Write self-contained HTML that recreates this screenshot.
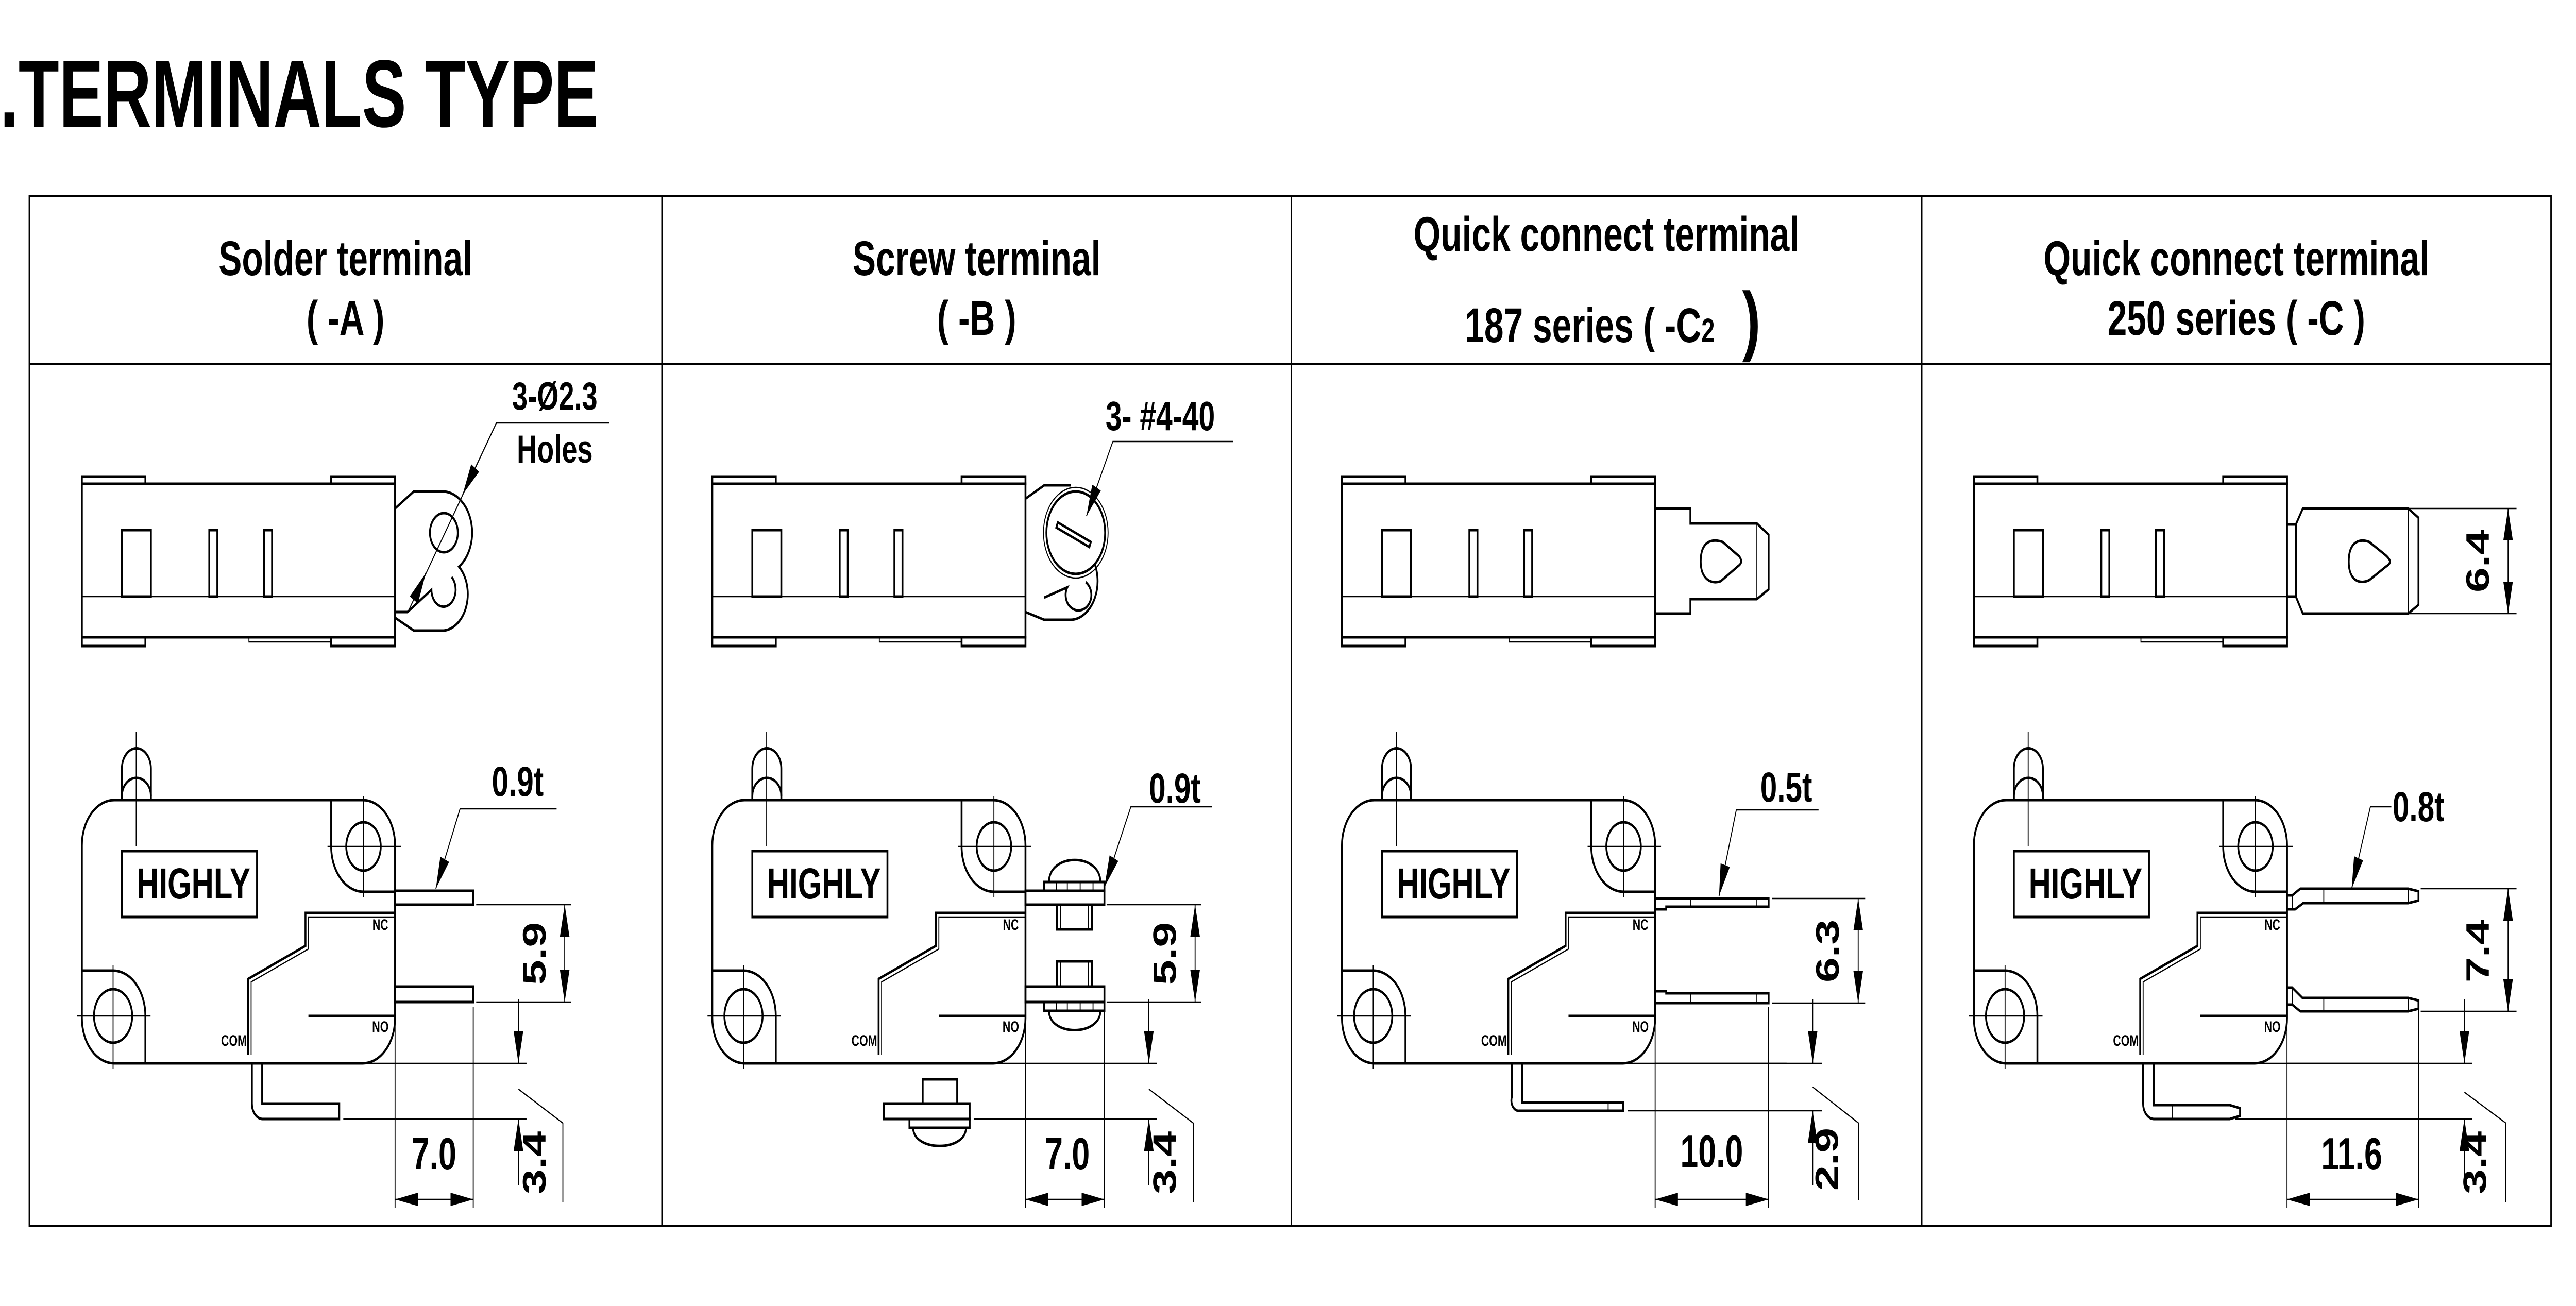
<!DOCTYPE html>
<html><head><meta charset="utf-8"><style>
html,body{margin:0;padding:0;background:#fff;width:100%;height:100%;overflow:hidden}
svg{display:block;width:100vw;height:100vh}
text{font-family:"Liberation Sans",Arial,sans-serif;font-weight:bold;fill:#000}
.k{fill:none;stroke:#000;stroke-width:5}
.t{fill:none;stroke:#000;stroke-width:2.5}
.w{fill:#fff;stroke:#000;stroke-width:5}
</style></head><body>
<svg viewBox="0 0 7016 2535" preserveAspectRatio="none" xmlns="http://www.w3.org/2000/svg">
<defs>
<marker id="ar" viewBox="0 -14 62 28" refX="62" refY="0" markerWidth="62" markerHeight="28" markerUnits="userSpaceOnUse" orient="auto-start-reverse"><path d="M0,-13 L62,0 L0,13 Z" fill="#000"/></marker>
<g id="topv">
 <rect class="k" x="223" y="939" width="853" height="298"/>
 <rect class="k" x="223" y="925" width="173" height="14"/>
 <rect class="k" x="902" y="925" width="174" height="14"/>
 <rect class="k" x="223" y="1237" width="173" height="17"/>
 <rect class="k" x="902" y="1237" width="174" height="17"/>
 <rect class="t" x="678" y="1237" width="224" height="9"/>
 <line class="t" x1="223" y1="1158" x2="1076" y2="1158"/>
 <rect class="k" x="332" y="1029" width="79" height="129"/>
 <rect class="k" x="570" y="1029" width="22" height="129"/>
 <rect class="k" x="719" y="1029" width="22" height="129"/>
</g>
<g id="sidev">
 <path class="k" d="M311,1553 L988,1553 A88,88 0 0 1 1076,1641 L1076,1976 A88,88 0 0 1 988,2064 L311,2064 A88,88 0 0 1 223,1976 L223,1641 A88,88 0 0 1 311,1553 Z"/>
 <path class="k" d="M902,1553 L902,1643 A88,88 0 0 0 990,1731 L1076,1731"/>
 <path class="k" d="M223,1884 L308,1884 A88,88 0 0 1 396,1972 L396,2064"/>
 <circle class="k" cx="990" cy="1643" r="47"/>
 <circle class="k" cx="308" cy="1972" r="52"/>
 <path class="t" d="M892,1643 H1092 M990,1545 V1741 M210,1972 H410 M308,1873 V2075"/>
 <path class="k" d="M332,1553 V1492 A39.5,39.5 0 0 1 411,1492 V1553"/>
 <path class="k" d="M332,1553 V1545 A39.5,35 0 0 1 411,1545"/>
 <line class="t" x1="371" y1="1421" x2="371" y2="1643"/>
 <rect class="k" x="332" y="1652" width="368" height="128"/>
 <text x="527" y="1744" font-size="84" text-anchor="middle">HIGHLY</text>
 <path class="k" d="M676,2047 V1900 L832,1836 V1772 H1076"/>
 <path class="t" d="M684,2047 V1906 L840,1842 V1780 H1076"/>
 <path class="k" d="M840,1972 H1076"/>
 <text x="1036" y="1805" font-size="30" text-anchor="middle">NC</text>
 <text x="1036" y="2003" font-size="30" text-anchor="middle">NO</text>
 <text x="637" y="2030" font-size="30" text-anchor="middle">COM</text>
 <line class="t" x1="1076" y1="1955" x2="1076" y2="2345"/>
 <line class="t" x1="1001" y1="2064" x2="1434" y2="2064"/>
</g>
</defs>

<text x="0" y="246" font-size="186" textLength="1630" lengthAdjust="spacingAndGlyphs">.TERMINALS TYPE</text>

<rect x="80" y="380" width="6868" height="2000" fill="none" stroke="#000" stroke-width="4"/>
<line x1="80" y1="707" x2="6948" y2="707" stroke="#000" stroke-width="4"/>
<line x1="1803" y1="380" x2="1803" y2="2380" stroke="#000" stroke-width="4"/>
<line x1="3517" y1="380" x2="3517" y2="2380" stroke="#000" stroke-width="4"/>
<line x1="5234" y1="380" x2="5234" y2="2380" stroke="#000" stroke-width="4"/>

<g font-size="95" text-anchor="middle">
 <text x="941" y="534">Solder terminal</text>
 <text x="941" y="650">( -A )</text>
 <text x="2660" y="534">Screw  terminal</text>
 <text x="2660" y="650">( -B )</text>
 <text x="4375" y="487">Quick connect terminal</text>
 <text x="4330" y="664">187 series  ( -C<tspan font-size="66">2</tspan></text>
 <text x="4770" y="672" font-size="150" font-weight="normal">)</text>
 <text x="6091" y="534">Quick connect terminal</text>
 <text x="6091" y="650">250 series  ( -C )</text>
</g>

<!-- PANEL 1 -->
<g>
 <use href="#topv"/>
 <path class="k" d="M1076,987 L1127,954 L1209,954 A82,80 0 0 1 1250,1100 A71,71 0 0 1 1209,1224 L1127,1224 L1076,1199"/>
 <circle class="k" cx="1209" cy="1034" r="38"/>
 <path class="k" d="M1076,1188 L1110,1188 L1175,1145 A33,33 0 1 0 1230,1120"/>
 <path class="t" d="M1659,821 H1352 L1111,1188"/>
 <path class="t" d="M1352,821 L1260,960" marker-end="url(#ar)"/>
 <path class="t" d="M1130,1160 L1160,1112" marker-end="url(#ar)"/>
 <text x="1511" y="795" font-size="76" text-anchor="middle">3-Ø2.3</text>
 <text x="1511" y="898" font-size="76" text-anchor="middle">Holes</text>
 <use href="#sidev"/>
 <rect class="k" x="1076" y="1729" width="213" height="27"/>
 <rect class="k" x="1076" y="1915" width="213" height="30"/>
 <path class="k" d="M686,2064 V2142 A30,30 0 0 0 716,2172 H924 V2142 H714 V2064"/>
 <path class="t" d="M1297,1756 H1555 M1297,1945 H1555 M935,2172 H1434 M1289,1955 V2345"/>
 <line class="t" x1="1538" y1="1756" x2="1538" y2="1945" marker-start="url(#ar)" marker-end="url(#ar)"/>
 <line class="t" x1="1076" y1="2328" x2="1289" y2="2328" marker-start="url(#ar)" marker-end="url(#ar)"/>
 <line class="t" x1="1412" y1="1939" x2="1412" y2="2064" marker-end="url(#ar)"/>
 <line class="t" x1="1412" y1="2301" x2="1412" y2="2172" marker-end="url(#ar)"/>
 <path class="t" d="M1412,2114 L1533,2180 V2334"/>
 <path class="t" d="M1516,1570 H1253 L1187,1725" marker-end="url(#ar)"/>
 <text x="1410" y="1545" font-size="82" text-anchor="middle">0.9t</text>
 <text x="1182" y="2270" font-size="88" text-anchor="middle">7.0</text>
 <text transform="translate(1486,1851) rotate(-90)" font-size="88" text-anchor="middle">5.9</text>
 <text transform="translate(1486,2257) rotate(-90)" font-size="88" text-anchor="middle">3.4</text>
</g>

<!-- PANEL 2 -->
<g transform="translate(1717,0)">
 <use href="#topv"/>
 <path class="k" d="M1076,968 L1127,942 L1200,942 M1076,1188 L1127,1203 L1200,1203 A75,75 0 0 0 1255,1080"/>
 <path class="k" d="M1127,1160 L1190,1140 A35,30 0 1 0 1240,1130"/>
 <circle class="w" cx="1213" cy="1034" r="80"/>
 <circle class="t" cx="1213" cy="1034" r="88"/>
 <polygon class="k" points="1164,1014 1254,1052 1250,1062 1160,1024"/>
 <path class="t" d="M1642,857 H1314 L1242,1002" marker-end="url(#ar)"/>
 <text x="1443" y="835" font-size="80" text-anchor="middle">3- #4-40</text>
 <use href="#sidev"/>
 <rect class="k" x="1076" y="1729" width="215" height="27"/>
 <rect class="k" x="1076" y="1915" width="215" height="30"/>
 <rect class="k" x="1127" y="1712" width="164" height="17"/>
 <path class="k" d="M1140,1712 C1140,1655 1280,1655 1280,1712"/>
 <rect class="k" x="1162" y="1756" width="95" height="48"/>
 <path class="t" d="M1172,1756 V1804 M1247,1756 V1804 M1160,1712 V1729 M1190,1712 V1729 M1225,1712 V1729 M1260,1712 V1729"/>
 <rect class="k" x="1162" y="1866" width="95" height="49"/>
 <path class="t" d="M1172,1866 V1915 M1247,1866 V1915 M1160,1945 V1962 M1190,1945 V1962 M1225,1945 V1962 M1260,1945 V1962"/>
 <rect class="k" x="1127" y="1945" width="164" height="17"/>
 <path class="k" d="M1140,1962 C1140,2012 1280,2012 1280,1962"/>
 <rect class="k" x="690" y="2142" width="234" height="30"/>
 <rect class="k" x="796" y="2095" width="94" height="47"/>
 <rect class="k" x="760" y="2172" width="164" height="17"/>
 <path class="k" d="M770,2189 C770,2236 914,2236 914,2189"/>
 <path class="t" d="M1297,1756 H1555 M1297,1945 H1555 M935,2172 H1434 M1291,1955 V2345"/>
 <line class="t" x1="1538" y1="1756" x2="1538" y2="1945" marker-start="url(#ar)" marker-end="url(#ar)"/>
 <line class="t" x1="1076" y1="2328" x2="1291" y2="2328" marker-start="url(#ar)" marker-end="url(#ar)"/>
 <line class="t" x1="1412" y1="1939" x2="1412" y2="2064" marker-end="url(#ar)"/>
 <line class="t" x1="1412" y1="2301" x2="1412" y2="2172" marker-end="url(#ar)"/>
 <path class="t" d="M1412,2114 L1533,2180 V2334"/>
 <path class="t" d="M1584,1566 H1363 L1291,1722" marker-end="url(#ar)"/>
 <text x="1483" y="1558" font-size="82" text-anchor="middle">0.9t</text>
 <text x="1190" y="2270" font-size="88" text-anchor="middle">7.0</text>
 <text transform="translate(1486,1851) rotate(-90)" font-size="88" text-anchor="middle">5.9</text>
 <text transform="translate(1486,2257) rotate(-90)" font-size="88" text-anchor="middle">3.4</text>
</g>

<!-- PANEL 3 -->
<g transform="translate(3432,0)">
 <use href="#topv"/>
 <path class="k" d="M1076,987 H1172 V1016 H1353 L1385,1038 V1144 L1353,1163 H1172 V1191 H1076"/>
 <line class="t" x1="1353" y1="1016" x2="1353" y2="1163"/>
 <path class="k" d="M1200,1090 C1200,1050 1230,1045 1260,1052 L1305,1080 C1315,1090 1310,1095 1300,1100 L1255,1128 C1230,1135 1200,1125 1200,1090 Z"/>
 <use href="#sidev"/>
 <path class="k" d="M1076,1744 H1385 V1760 H1106 V1765 H1076"/>
 <path class="t" d="M1172,1744 V1760 M1353,1744 V1760"/>
 <path class="k" d="M1076,1924 H1106 V1928 H1385 V1947 H1076"/>
 <path class="t" d="M1172,1928 V1947 M1353,1928 V1947"/>
 <path class="k" d="M686,2064 V2128 A20,20 0 0 0 706,2156 H989 V2140 H714 V2064"/>
 <line class="t" x1="948" y1="2140" x2="948" y2="2156"/>
 <path class="t" d="M1395,1744 H1648 M1395,1947 H1648 M1001,2156 H1530 M1385,1955 V2345 M1076,2064 H1530"/>
 <line class="t" x1="1629" y1="1744" x2="1629" y2="1947" marker-start="url(#ar)" marker-end="url(#ar)"/>
 <line class="t" x1="1076" y1="2328" x2="1385" y2="2328" marker-start="url(#ar)" marker-end="url(#ar)"/>
 <line class="t" x1="1505" y1="1939" x2="1505" y2="2063" marker-end="url(#ar)"/>
 <line class="t" x1="1505" y1="2300" x2="1505" y2="2156" marker-end="url(#ar)"/>
 <path class="t" d="M1505,2110 L1630,2180 V2330"/>
 <path class="t" d="M1521,1572 H1297 L1250,1739" marker-end="url(#ar)"/>
 <text x="1433" y="1556" font-size="82" text-anchor="middle">0.5t</text>
 <text x="1230" y="2265" font-size="88" text-anchor="middle">10.0</text>
 <text transform="translate(1576,1846) rotate(-90)" font-size="88" text-anchor="middle">6.3</text>
 <text transform="translate(1574,2250) rotate(-90)" font-size="88" text-anchor="middle">2.9</text>
</g>

<!-- PANEL 4 -->
<g transform="translate(5153,0)">
 <use href="#topv"/>
 <path class="k" d="M1076,1018 H1100 V1158 H1076"/>
 <path class="k" d="M1100,1018 L1119,987 H1406 L1434,1005 V1174 L1406,1191 H1119 L1100,1158"/>
 <line class="t" x1="1406" y1="987" x2="1406" y2="1191"/>
 <path class="k" d="M1244,1090 C1244,1050 1275,1045 1300,1052 L1345,1078 C1360,1088 1360,1093 1345,1100 L1300,1126 C1275,1135 1244,1128 1244,1090 Z"/>
 <path class="t" d="M1406,987 H1701 M1406,1191 H1701"/>
 <line class="t" x1="1678" y1="987" x2="1678" y2="1191" marker-start="url(#ar)" marker-end="url(#ar)"/>
 <text transform="translate(1626,1089) rotate(-90)" font-size="88" text-anchor="middle">6.4</text>
 <use href="#sidev"/>
 <path class="k" d="M1076,1738 H1090 L1112,1725 H1406 L1434,1730 V1748 L1406,1753 H1120 L1098,1765 H1076"/>
 <path class="t" d="M1176,1725 V1753 M1406,1725 V1753 M1090,1738 V1765"/>
 <path class="k" d="M1076,1917 H1090 L1118,1937 H1406 L1434,1942 V1958 L1406,1963 H1112 L1090,1950 H1076"/>
 <path class="t" d="M1176,1937 V1963 M1406,1937 V1963 M1090,1917 V1950"/>
 <path class="k" d="M684,2064 V2142 A30,30 0 0 0 714,2172 H920 L948,2166 V2151 L920,2145 H713 V2064"/>
 <line class="t" x1="763" y1="2145" x2="763" y2="2172"/>
 <path class="t" d="M1440,1725 H1701 M1440,1963 H1701 M935,2172 H1580 M1434,1955 V2345 M1076,2064 H1580"/>
 <line class="t" x1="1678" y1="1725" x2="1678" y2="1963" marker-start="url(#ar)" marker-end="url(#ar)"/>
 <line class="t" x1="1076" y1="2328" x2="1434" y2="2328" marker-start="url(#ar)" marker-end="url(#ar)"/>
 <line class="t" x1="1559" y1="1939" x2="1559" y2="2064" marker-end="url(#ar)"/>
 <line class="t" x1="1559" y1="2301" x2="1559" y2="2172" marker-end="url(#ar)"/>
 <path class="t" d="M1559,2120 L1672,2180 V2334"/>
 <path class="t" d="M1360,1566 H1303 L1252,1725" marker-end="url(#ar)"/>
 <text x="1434" y="1594" font-size="82" text-anchor="middle">0.8t</text>
 <text x="1252" y="2270" font-size="88" text-anchor="middle">11.6</text>
 <text transform="translate(1626,1846) rotate(-90)" font-size="88" text-anchor="middle">7.4</text>
 <text transform="translate(1618,2257) rotate(-90)" font-size="88" text-anchor="middle">3.4</text>
</g>
</svg>
</body></html>
